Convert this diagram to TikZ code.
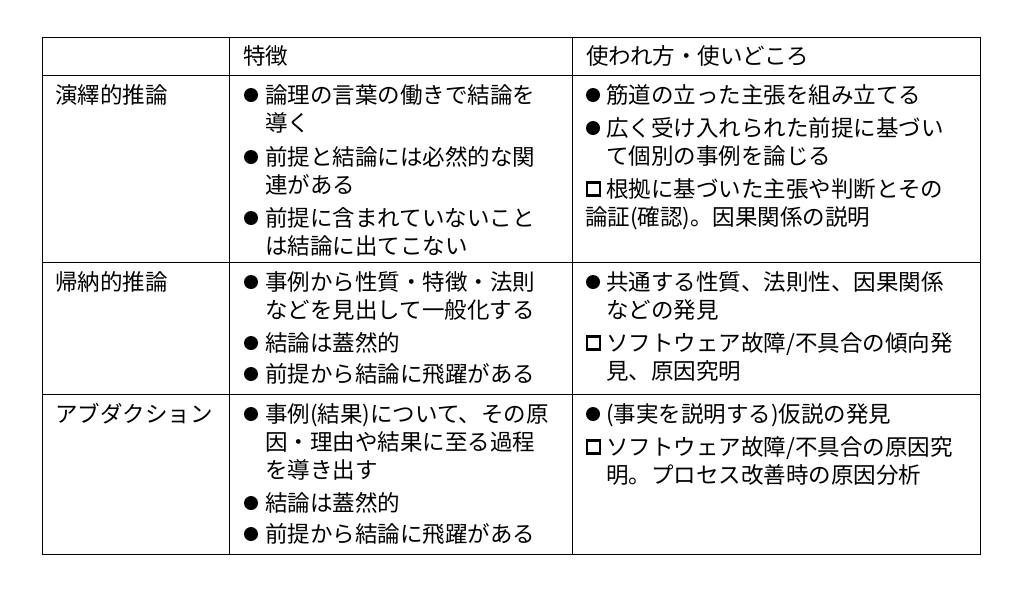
\documentclass[tikz,border=0pt]{standalone}
\usepackage{fontspec}
\setmainfont{Noto Sans CJK JP}
\tikzset{
    txt/.style={anchor=base west, inner sep=0pt, font=\fontsize{22.5}{26}\selectfont},
    rule/.style={line width=0.8pt},
}
% one line of text at (x,y), y measured downward in px
\newcommand{\Cell}[3]{\node[txt] at (#1,-#2-8) {#3};}
\newcommand{\Bul}[2]{\node[circle, fill, inner sep=0pt, minimum size=14pt] at (#1+8,-#2) {};}
\newcommand{\Sqr}[2]{\draw[line width=2.6pt] (#1+2,-#2-6.5) rectangle (#1+15,-#2+6.5);}

\begin{document}
\begin{tikzpicture}[x=1pt,y=1pt]
    \useasboundingbox (0,0) rectangle (1024,-590);

    % grid
    \draw[rule] (42,-37) rectangle (980,-554);
    \foreach \yy in {75,262,394} \draw[rule] (42,-\yy) -- (980,-\yy);
    \foreach \xx in {229,572} \draw[rule] (\xx,-37) -- (\xx,-554);

    % header
    \Cell{243}{56}{特徴}
    \Cell{586}{56}{使われ方・使いどころ}

    % row 1
    \Cell{55}{95}{演繹的推論}
    \Bul{243}{95}  \Cell{265}{95}{論理の言葉の働きで結論を}
    \Cell{265}{123}{導く}
    \Bul{243}{157} \Cell{265}{157}{前提と結論には必然的な関}
    \Cell{265}{185}{連がある}
    \Bul{243}{218} \Cell{265}{218}{前提に含まれていないこと}
    \Cell{265}{246}{は結論に出てこない}
    \Bul{585}{95}  \Cell{606}{95}{筋道の立った主張を組み立てる}
    \Bul{585}{128} \Cell{606}{128}{広く受け入れられた前提に基づい}
    \Cell{606}{156}{て個別の事例を論じる}
    \Sqr{585}{189} \Cell{606}{189}{根拠に基づいた主張や判断とその}
    \Cell{585}{217}{論証(確認)。因果関係の説明}

    % row 2
    \Cell{55}{282}{帰納的推論}
    \Bul{243}{282} \Cell{265}{282}{事例から性質・特徴・法則}
    \Cell{265}{310}{などを見出して一般化する}
    \Bul{243}{343} \Cell{265}{343}{結論は蓋然的}
    \Bul{243}{374} \Cell{265}{374}{前提から結論に飛躍がある}
    \Bul{585}{282} \Cell{606}{282}{共通する性質、法則性、因果関係}
    \Cell{606}{310}{などの発見}
    \Sqr{585}{343} \Cell{606}{343}{ソフトウェア故障/不具合の傾向発}
    \Cell{606}{371}{見、原因究明}

    % row 3
    \Cell{55}{414}{アブダクション}
    \Bul{243}{414} \Cell{265}{414}{事例(結果)について、その原}
    \Cell{265}{442}{因・理由や結果に至る過程}
    \Cell{265}{470}{を導き出す}
    \Bul{243}{503} \Cell{265}{503}{結論は蓋然的}
    \Bul{243}{534} \Cell{265}{534}{前提から結論に飛躍がある}
    \Bul{585}{414} \Cell{606}{414}{(事実を説明する)仮説の発見}
    \Sqr{585}{447} \Cell{606}{447}{ソフトウェア故障/不具合の原因究}
    \Cell{606}{475}{明。プロセス改善時の原因分析}
\end{tikzpicture}
\end{document}
